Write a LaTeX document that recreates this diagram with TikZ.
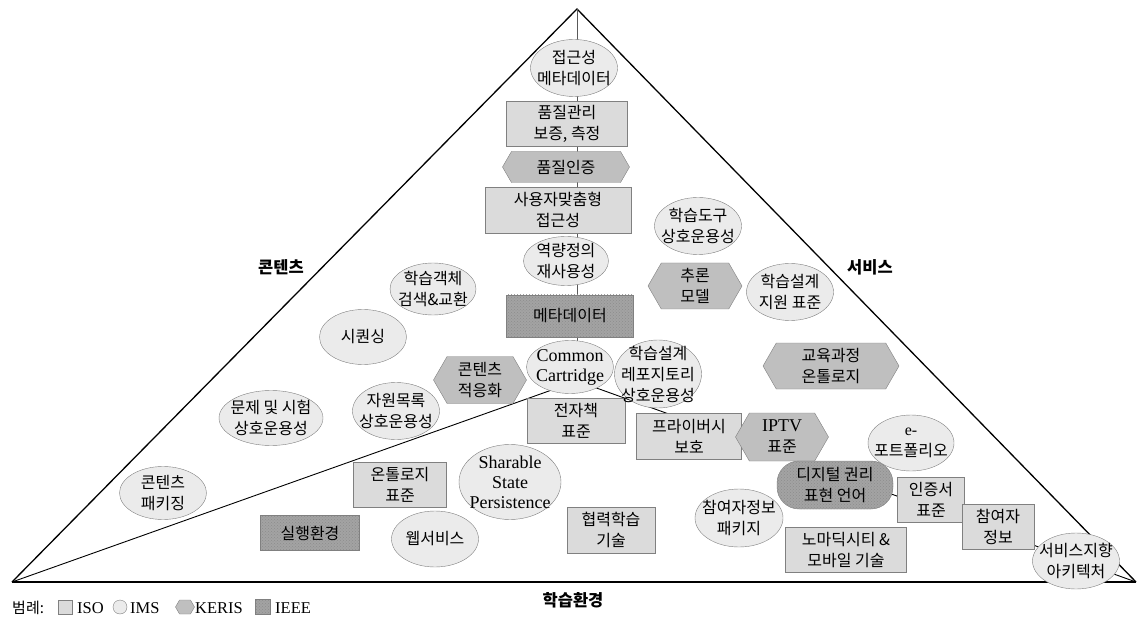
\documentclass[tikz,border=0pt]{standalone}
\usepackage{fontspec}
\setmainfont{Liberation Serif}
\newfontfamily\kr{Noto Sans CJK KR}
\usetikzlibrary{shapes.geometric,shapes.symbols,patterns}

\definecolor{edgegray}{gray}{0.50}
\definecolor{isofill}{gray}{0.86}
\definecolor{imsfill}{gray}{0.92}
\definecolor{kerisfill}{gray}{0.75}
\definecolor{ieeefill}{gray}{0.64}
\definecolor{ieeedot}{gray}{0.55}

\begin{document}
\begin{tikzpicture}[x=1pt, y=-1pt,
    every node/.style={font=\kr\fontsize{16}{21}\selectfont, align=center, inner sep=1pt},
    iso/.style 2 args={rectangle, draw=edgegray, fill=isofill, minimum width=#1, minimum height=#2},
    ims/.style 2 args={ellipse, draw=edgegray, fill=imsfill, inner sep=0pt, minimum width=#1, minimum height=#2},
    keris/.style 2 args={signal, signal to=west and east, signal pointer angle=120,
      draw=edgegray, fill=kerisfill, minimum width=#1, minimum height=#2},
    ieee/.style 2 args={rectangle, draw=edgegray, preaction={fill=ieeefill},
      pattern=crosshatch dots, pattern color=ieeedot, minimum width=#1, minimum height=#2},
    latin/.style={font=\rmfamily\fontsize{18}{20}\selectfont},
    region/.style={font=\kr\bfseries\fontsize{16.5}{18}\selectfont},
    legend/.style={font=\rmfamily\fontsize{16.5}{18}\selectfont, anchor=west, inner sep=0pt}
  ]
  \useasboundingbox (0,0) rectangle (1137,617);

  % the pyramid and its three regions
  \coordinate (top) at (577,9);
  \coordinate (left) at (12,582);
  \coordinate (right) at (1136,582);
  \coordinate (mid) at (577,381);
  \draw[line width=1.3pt] (left) -- (top) -- (right);
  \draw[line width=1.8pt] (left) -- (right);
  \draw[gray!70!black, line width=0.9pt] (top) -- (mid);
  \draw[line width=0.9pt] (left) -- (mid) -- (right);

  \node[region] (contents) at (281,267) {콘텐츠};
  \node[region] (service) at (870,267) {서비스};
  \node[region] (environ) at (573,600) {학습환경};

  % centre column
  \node[ims={87}{57}, label=center:{접근성\\메타데이터}] (access) at (574,68) {};
  \node[iso={121}{45}] (quality) at (567,124) {품질관리\\보증, 측정};
  \node[keris={127}{31}] (qcert) at (566,167) {품질인증};
  \node[iso={146}{46}] (custom) at (558,210) {사용자맞춤형\\접근성};
  \node[ims={85}{49}, label=center:{역량정의\\재사용성}] (compet) at (566,261) {};
  \node[ieee={127}{42}] (meta) at (570,316) {메타데이터};
  \node[ims={87}{53}, label={[latin]center:Common\\Cartridge}] (cc) at (570,367) {};
  \node[iso={98}{45}] (ebook) at (576,421) {전자책\\표준};

  % contents
  \node[ims={86}{52}, label=center:{학습객체\\검색\&교환}] (losearch) at (433,289) {};
  \node[ims={87}{55}, label=center:{시퀀싱}] (seq) at (363,337) {};
  \node[keris={93}{47}] (cadapt) at (480,380) {콘텐츠\\적응화};
  \node[ims={87}{57}, label=center:{자원목록\\상호운용성}] (resource) at (396,411) {};
  \node[ims={104}{55}, label=center:{문제 및 시험\\상호운용성}] (qti) at (271,418) {};

  % service
  \node[ims={87}{57}, label=center:{학습도구\\상호운용성}] (ltool) at (698,226) {};
  \node[keris={94}{46}] (infer) at (695,286) {추론\\모델};
  \node[ims={87}{57}, label=center:{학습설계\\지원 표준}] (ldstd) at (790,292) {};
  \node[keris={136}{46}] (curric) at (831,366) {교육과정\\온톨로지};
  \node[ims={87}{68}, label=center:{학습설계\\레포지토리\\상호운용성}] (ldrepo) at (658,374) {};
  \node[iso={105}{46}] (privacy) at (689,436) {프라이버시\\보호};
  \node[keris={93}{48}] (iptv) at (782,437) {{\rmfamily\fontsize{18}{20}\selectfont IPTV}\\표준};
  \node[ims={86}{56}, label=center:{{\rmfamily e-}\\포트폴리오}] (eport) at (911,443) {};
  \node[ieee={116}{48}, rounded corners=22pt] (drel) at (835,485) {디지털 권리\\표현 언어};
  \node[iso={67}{45}] (certstd) at (931,500) {인증서\\표준};
  \node[iso={72}{45}] (pinfo) at (998,527) {참여자\\정보};
  \node[ims={87}{56}, label=center:{서비스지향\\아키텍처}] (soa) at (1076,561) {};

  % learning environment
  \node[ims={87}{53}, label=center:{콘텐츠\\패키징}] (cpkg) at (163,493) {};
  \node[ieee={99}{35}] (runtime) at (310,533) {실행환경};
  \node[iso={93}{45}] (onto) at (400,485) {온톨로지\\표준};
  \node[ims={87}{56}, label=center:{웹서비스}] (websvc) at (435,539) {};
  \node[ims={102}{75}, label={[latin]center:Sharable\\State\\Persistence}] (ssp) at (510,482) {};
  \node[iso={88}{46}] (collab) at (611,530) {협력학습\\기술};
  \node[ims={88}{58}, label=center:{참여자정보\\패키지}] (ppkg) at (739,518) {};
  \node[iso={121}{45}] (nomad) at (846,550) {노마딕시티 \&\\모바일 기술};

  % legend
  \node[font=\kr\fontsize{15}{17}\selectfont, anchor=west, inner sep=0pt] (lgd) at (12,608) {범례:};
  \node[iso={14}{14}, inner sep=0pt] (lgdiso) at (65,607) {};
  \node[legend] (lgdisotxt) at (77,608) {ISO};
  \node[ims={14}{14}] (lgdims) at (120,607) {};
  \node[legend] (lgdimstxt) at (130,608) {IMS};
  \node[keris={19}{14}, inner sep=0pt] (lgdkeris) at (185,607) {};
  \node[legend] (lgdkeristxt) at (195,608) {KERIS};
  \node[ieee={15}{15}, inner sep=0pt] (lgdieee) at (263,607) {};
  \node[legend] (lgdieeetxt) at (275,608) {IEEE};
\end{tikzpicture}
\end{document}
